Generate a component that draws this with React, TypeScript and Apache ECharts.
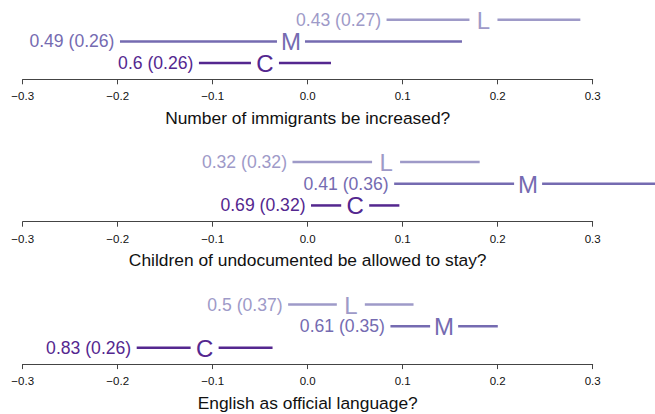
import React, { useEffect, useRef } from 'react';
import * as echarts from 'echarts';

const questions = [
  'Number of immigrants be increased?',
  'Children of undocumented be allowed to stay?',
  'English as official language?',
];
const groups = ['L', 'M', 'C'];
const groupColors = ['#9e9ac8', '#756bb1', '#54278f'];

// point estimates and half-widths of intervals, per question
const estL = [0.185, 0.0825, 0.0454];
const ciL = [0.102, 0.0985, 0.066];
const estM = [-0.0176, 0.232, 0.1436];
const ciM = [0.18, 0.141, 0.0565];
const estC = [-0.045, 0.05, -0.1085];
const ciC = [0.0695, 0.0465, 0.0715];

const labelL = ['0.43 (0.27)', '0.32 (0.32)', '0.5 (0.37)'];
const labelM = ['0.49 (0.26)', '0.41 (0.36)', '0.61 (0.35)'];
const labelC = ['0.6 (0.26)', '0.69 (0.32)', '0.83 (0.26)'];

const tickValues = [-0.3, -0.2, -0.1, 0, 0.1, 0.2, 0.3];
const tickLabels = ['\u22120.3', '\u22120.2', '\u22120.1', '0.0', '0.1', '0.2', '0.3'];

const FONT = "'Liberation Sans', Arial, Helvetica, sans-serif";

export default function App() {
  const ref = useRef<HTMLDivElement>(null);
  useEffect(() => {
    if (!ref.current) return;
    const chart = echarts.init(ref.current, null, { renderer: 'svg' });
    const grids: any[] = [];
    const xAxes: any[] = [];
    const yAxes: any[] = [];
    const series: any[] = [];
    const labels = [labelL, labelM, labelC];
    for (let i = 0; i < 3; i++) {
      const axisY = 79.3 + i * 142.4;
      grids.push({ left: 22.7, width: 570, top: axisY - 65, height: 65 });
      xAxes.push({
        gridIndex: i,
        type: 'value',
        min: -0.3,
        max: 0.3,
        interval: 0.1,
        splitLine: { show: false },
        axisLine: { show: true, onZero: false, lineStyle: { color: '#444', width: 1 } },
        axisTick: { show: true, length: 5, lineStyle: { color: '#444', width: 1 } },
        axisLabel: {
          fontSize: 11.5,
          fontFamily: FONT,
          color: '#111',
          margin: 11,
          formatter: (v: number) => {
            const idx = tickValues.findIndex((t) => Math.abs(t - v) < 1e-9);
            return idx >= 0 ? tickLabels[idx] : '';
          },
        },
        name: questions[i],
        nameLocation: 'middle',
        nameGap: 30,
        nameTextStyle: { fontSize: 17.4, fontFamily: FONT, color: '#111' },
      });
      yAxes.push({ gridIndex: i, type: 'value', min: 0, max: 3, show: false });
      const data = [
        [estL[i], ciL[i], 2, 0],
        [estM[i], ciM[i], 1, 1],
        [estC[i], ciC[i], 0, 2],
      ];
      const panel = i;
      series.push({
        type: 'custom',
        xAxisIndex: i,
        yAxisIndex: i,
        clip: false,
        silent: true,
        data,
        renderItem: (params: any, api: any) => {
          const est = api.value(0);
          const hw = api.value(1);
          const row = api.value(2) + 0.75;
          const g = api.value(3);
          const pLow = api.coord([est - hw, row]);
          const pEst = api.coord([est, row]);
          const pHigh = api.coord([est + hw, row]);
          const color = groupColors[g];
          const gap = 14;
          return {
            type: 'group',
            children: [
              {
                type: 'line',
                shape: { x1: pLow[0], y1: pLow[1], x2: pEst[0] - gap, y2: pEst[1] },
                style: { stroke: color, lineWidth: 2.5 },
              },
              {
                type: 'line',
                shape: { x1: pEst[0] + gap, y1: pEst[1], x2: pHigh[0], y2: pHigh[1] },
                style: { stroke: color, lineWidth: 2.5 },
              },
              {
                type: 'text',
                x: pEst[0],
                y: pEst[1] + 0.5,
                style: {
                  text: groups[g],
                  fill: color,
                  fontSize: 24,
                  fontFamily: FONT,
                  align: 'center',
                  verticalAlign: 'middle',
                },
              },
              {
                type: 'text',
                x: pLow[0] - 5.5,
                y: pLow[1],
                style: {
                  text: labels[g][panel],
                  fill: color,
                  fontSize: 17.6,
                  fontFamily: FONT,
                  align: 'right',
                  verticalAlign: 'middle',
                },
              },
            ],
          };
        },
      });
    }
    chart.setOption({
      animation: false,
      backgroundColor: '#ffffff',
      grid: grids,
      xAxis: xAxes,
      yAxis: yAxes,
      series,
    });
    return () => chart.dispose();
  }, []);
  return (
    <div
      ref={ref}
      style={{ position: 'absolute', left: 0, top: 0, width: 655, height: 414 }}
    />
  );
}
